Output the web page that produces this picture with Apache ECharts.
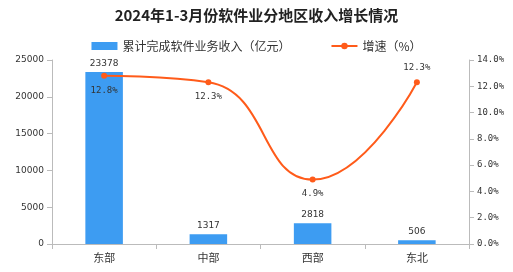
<!DOCTYPE html>
<html>
<head>
<meta charset="utf-8">
<script src="https://cdn.jsdelivr.net/npm/echarts@6/dist/echarts.min.js"></script>
<style>
  html, body { margin: 0; padding: 0; background: #fff; }
  #chart { width: 513px; height: 272px; }
</style>
</head>
<body>
<div id="chart"></div>
<script>
// 数据
var regions = ["东部", "中部", "西部", "东北"];
var revenue = [23378, 1317, 2818, 506];   // 累计完成软件业务收入（亿元）
var growth = [12.8, 12.3, 4.9, 12.3];     // 增速（%）
var growthLabelPos = ["bottom", "bottom", "bottom", "top"];

var cjk = '"Noto Sans CJK SC", sans-serif';

var chart = echarts.init(document.getElementById("chart"));

var option = {
  animation: false,
  title: {
    text: "2024年1-3月份软件业分地区收入增长情况",
    left: "center",
    top: 3,
    textStyle: { fontFamily: cjk, fontSize: 15, fontWeight: "bold", color: "#222" }
  },
  legend: {
    top: 35,
    left: "center",
    itemGap: 40,
    textStyle: { fontFamily: cjk, fontSize: 12, color: "#333" },
    data: [
      { name: "累计完成软件业务收入（亿元）", icon: "rect", itemStyle: { color: "#3d9cf2" } },
      { name: "增速（%）" }
    ],
    itemWidth: 26,
    itemHeight: 8
  },
  grid: { left: 52, right: 44, top: 60, bottom: 28, containLabel: false },
  xAxis: {
    type: "category",
    data: regions,
    axisLine: { lineStyle: { color: "#bbb" } },
    axisTick: { show: true, alignWithLabel: false, lineStyle: { color: "#bbb" } },
    axisLabel: { fontFamily: cjk, fontSize: 11, color: "#333", margin: 8 }
  },
  yAxis: [
    {
      type: "value",
      min: 0, max: 25000, interval: 5000,
      axisLine: { show: true, lineStyle: { color: "#bbb" } },
      axisTick: { show: true, lineStyle: { color: "#bbb" } },
      splitLine: { show: false },
      axisLabel: {
        fontFamily: "DejaVu Sans", fontSize: 9, color: "#333",
        formatter: function (v) { return String(v); }
      }
    },
    {
      type: "value",
      min: 0, max: 14, interval: 2,
      axisLine: { show: true, lineStyle: { color: "#bbb" } },
      axisTick: { show: true, lineStyle: { color: "#bbb" } },
      splitLine: { show: false },
      axisLabel: {
        fontFamily: "DejaVu Sans Mono", fontSize: 9, color: "#333",
        formatter: function (v) { return v.toFixed(1) + "%"; }
      }
    }
  ],
  series: [
    {
      name: "累计完成软件业务收入（亿元）",
      type: "bar",
      data: revenue,
      barWidth: "36%",
      itemStyle: { color: "#3d9cf2" },
      label: { show: true, position: "top", fontFamily: "DejaVu Sans", fontSize: 9, color: "#333", distance: 4 }
    },
    {
      name: "增速（%）",
      type: "line",
      yAxisIndex: 1,
      smooth: true,
      symbol: "circle",
      symbolSize: 6,
      lineStyle: { color: "#ff5b1a", width: 2 },
      itemStyle: { color: "#ff5b1a" },
      data: growth.map(function (v, i) {
        return {
          value: v,
          label: { position: growthLabelPos[i] }
        };
      }),
      label: {
        show: true,
        fontFamily: "DejaVu Sans Mono", fontSize: 9, color: "#333", distance: 7,
        formatter: function (p) { return p.value.toFixed(1) + "%"; }
      }
    }
  ]
};

chart.setOption(option);
</script>
</body>
</html>
